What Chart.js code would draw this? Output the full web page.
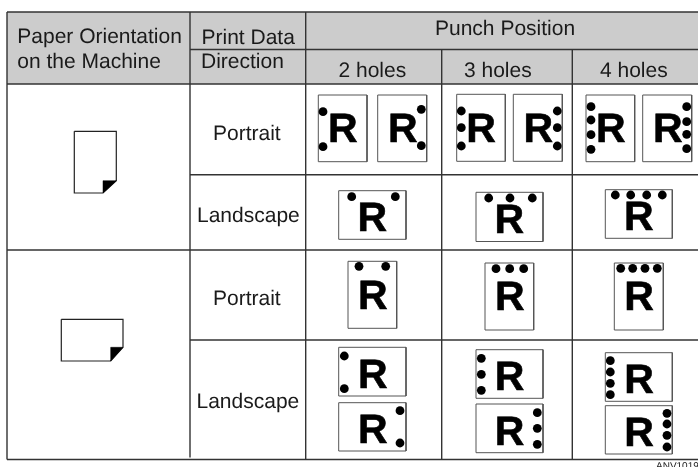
<!DOCTYPE html>
<html><head><meta charset="utf-8">
<style>html,body{margin:0;padding:0;background:#fff}canvas{display:block}</style>
<script src="https://cdn.jsdelivr.net/npm/chart.js@4"></script>
</head><body><canvas id="c" width="698" height="467"></canvas>
<script>
// header band [x0,y0,x1,y1]
const headerBand = [7,12,698,84];
// table rules [x0,y0,x1,y1]
const tableRules = [
 [7,12,698,12],[7,84,698,84],[190,49.5,698,49.5],[190,174.7,698,174.7],
 [7,250,698,250],[190,340,698,340],[7,459.5,698,459.5],
 [7,12,7,459.5],[190,12,190,457.5],[305.7,12,305.7,459.5],[441.7,49.5,441.7,459.5],[572.3,49.5,572.3,459.5]
];
// sheets of paper [x0,y0,x1,y1]
const sheets = [
 [318.3,95,367,161.7],[377.7,95,426.7,161.7],
 [456.7,94.3,505.3,161.3],[513.3,94.3,562.3,161.3],
 [586,95,634.7,161.7],[642.7,95,691.7,161.7],
 [338.7,190.7,406,239.3],[476,192.3,543,241.5],[605.3,189.7,672.3,238.3],
 [348,261.3,396.7,328.3],[485,263,533.7,330],[614.3,263,663.3,330],
 [338.7,347.3,406,396],[338.7,402.7,406,451],
 [476,349.7,543,398.3],[476,404,543,452.7],
 [605.3,352.7,672.3,401.3],[605.3,405.7,672.3,454]
];
// punch holes
const holeX = [323,323,421.3,421.3, 461.3,461.3,461.3,557.3,557.3,557.3, 591,591,591,591,686.7,686.7,686.7,686.7,
 351.7,395.3, 488.7,510,532.3, 615.3,630.7,646.7,662.3,
 359,385.7, 496,509.7,523.7, 620.7,632.7,645,657.3,
 344.3,344.3,400,400, 481.3,481.3,481.3,537.3,537.3,537.3,
 610.3,610.3,610.3,610.3,667,667,667,667];
const holeY = [111.7,146.7,109.3,145.7, 111,127.7,146,111,127.7,146, 106.7,120,134.7,149.3,106.7,121.7,134.3,148.7,
 196.7,196.7, 198,198,198, 195,195,195,195,
 266.3,266.3, 268.7,268.7,268.7, 268.3,268.3,268.3,268.3,
 356,388.7,410.7,443, 358.3,374.3,390.3,412.7,428.3,444.3,
 360.7,372,383.3,394.7,413.3,424,435.3,447];
// letter R centres
const letterX = [342.7,402.7,481,538.3,610.7,667.7, 372.3,509.3,638.7, 372.7,509.7,639, 372.7,372.7,509.5,509.5,639,639];
const letterY = [129.3,129.3,129.3,129.3,129.3,129.3, 218.5,220,216.7, 296,297.3,297, 375,430,376.7,431.7,380,433.3];
// machine orientation icons: outline and folded corner
const iconOutlines = [
 [[74.3,131.3],[116.3,131.3],[116.3,180.7],[103,193],[74.3,193],[74.3,131.3]],
 [[61.3,319.3],[123,319.3],[123,347.3],[110.7,361],[61.3,361],[61.3,319.3]]
];
const iconFolds = [
 [[103,180.7],[116.3,180.7],[103,193],[103,180.7]],
 [[110.7,347.3],[123,347.3],[110.7,361],[110.7,347.3]]
];
// captions [text, left x, baseline y]
const captions = [
 ['Paper Orientation',17.3,43],['on the Machine',17.3,68],
 ['Print Data',201.5,44],['Direction',201,68],
 ['Portrait',213,140],['Landscape',197,221.7],
 ['Portrait',213,305],['Landscape',196.5,408.3],
 ['Punch Position',435,35],['2 holes',338.5,77.3],['3 holes',464,77.3],['4 holes',600,77.3]
];
const footnote = ['ANV1019',656,469];

const ds = [];
const poly = pts => pts.map(p=>({x:p[0],y:p[1]}));
const box = r => poly([[r[0],r[1]],[r[2],r[1]],[r[2],r[3]],[r[0],r[3]],[r[0],r[1]]]);
const base = {type:'line',pointRadius:0,tension:0,clip:false,order:1};
ds.push({...base,data:box(headerBand),borderWidth:0,backgroundColor:'#cccccc',fill:'shape',order:9});
tableRules.forEach(r=>ds.push({...base,data:[{x:r[0],y:r[1]},{x:r[2],y:r[3]}],borderColor:'#333333',borderWidth:1.4,fill:false,order:5}));
sheets.forEach(r=>ds.push({...base,data:box(r),borderColor:'#555555',borderWidth:1,fill:false,order:4}));
iconOutlines.forEach(o=>ds.push({...base,data:poly(o),borderColor:'#222222',borderWidth:1.2,fill:false,order:3}));
iconFolds.forEach(o=>ds.push({...base,data:poly(o),borderColor:'#000',borderWidth:0.5,backgroundColor:'#000',fill:'shape',order:2}));
ds.push({type:'scatter',data:holeX.map((x,i)=>({x,y:holeY[i]})),pointRadius:4.4,pointBackgroundColor:'#000',pointBorderWidth:0,clip:false,order:0});

const textPlugin = {id:'texts',afterDatasetsDraw(ch){
  const c=ch.ctx,X=ch.scales.x,Y=ch.scales.y;
  c.save();c.fillStyle='#1a1a1a';c.textAlign='left';c.textBaseline='alphabetic';
  c.textRendering='geometricPrecision';
  c.font='21px "Liberation Sans"';
  captions.forEach(t=>c.fillText(t[0],X.getPixelForValue(t[1]),Y.getPixelForValue(t[2])));
  c.font='10px "Liberation Sans"';
  c.fillText(footnote[0],X.getPixelForValue(footnote[1]),Y.getPixelForValue(footnote[2]));
  c.fillStyle='#000';c.strokeStyle='#000';c.lineWidth=0.6;c.textAlign='center';c.textBaseline='middle';
  c.font='bold 41px "Liberation Sans"';
  letterX.forEach((x,i)=>{
    const px=X.getPixelForValue(x),py=Y.getPixelForValue(letterY[i])+1.5;
    c.fillText('R',px,py);c.strokeText('R',px,py);
  });
  c.restore();
}};

new Chart(document.getElementById('c'),{
  data:{datasets:ds},
  plugins:[textPlugin],
  options:{responsive:false,animation:false,devicePixelRatio:1,
    layout:{padding:0,autoPadding:false},
    plugins:{legend:{display:false},tooltip:{enabled:false},title:{display:false}},
    scales:{
      x:{type:'linear',min:0,max:698,display:false},
      y:{type:'linear',min:0,max:467,reverse:true,display:false}
    }}
});
</script></body></html>
